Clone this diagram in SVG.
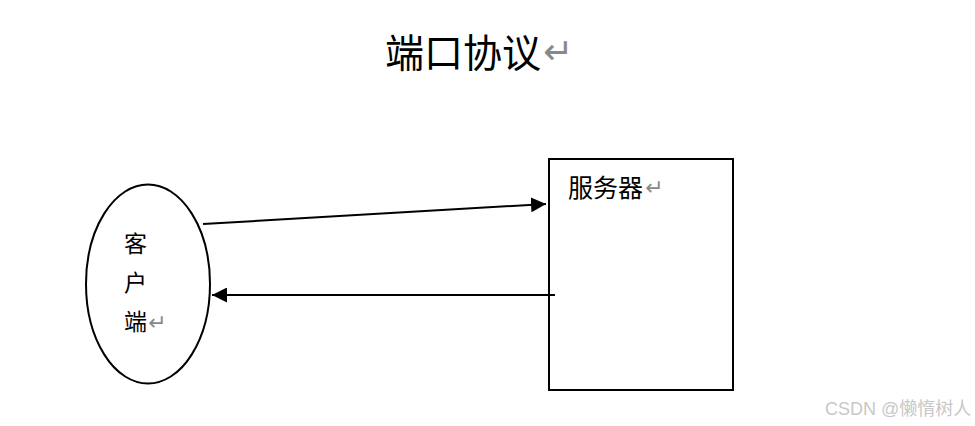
<svg xmlns="http://www.w3.org/2000/svg" width="975" height="426" viewBox="0 0 975 426">
<style>
.cjk{font-family:"Noto Sans CJK SC","Noto Sans",sans-serif;fill:#000}
.mark{fill:#888;font-family:"DejaVu Sans",sans-serif}
.shape{fill:none;stroke:#000;stroke-width:2}
.conn{stroke:#000;stroke-width:2;fill:none}
</style>
<defs>
<marker id="ah" viewBox="0 0 10 10" refX="10" refY="5" markerWidth="15" markerHeight="15" markerUnits="userSpaceOnUse" orient="auto">
<path d="M0,0 L10,5 L0,10 z" fill="#000"/>
</marker>
</defs>
<rect width="975" height="426" fill="#fff"/>
<g id="title">
<text x="385" y="67" class="cjk" font-size="39">端口协议</text>
<text x="543" y="64" class="mark" font-size="36">↵</text>
</g>
<g id="client">
<ellipse cx="148" cy="284" rx="62" ry="99.5" class="shape"/>
<text x="124" y="252" class="cjk" font-size="23">客</text>
<text x="124" y="291" class="cjk" font-size="23">户</text>
<text x="124" y="330" class="cjk" font-size="23">端</text>
<text x="148" y="330" class="mark" font-size="22">↵</text>
</g>
<g id="server">
<rect x="549" y="159" width="184" height="231" class="shape"/>
<text x="568" y="197" class="cjk" font-size="25">服务器</text>
<text x="645" y="195" class="mark" font-size="22">↵</text>
</g>
<g id="connectors">
<line x1="203" y1="224" x2="546" y2="204" class="conn" marker-end="url(#ah)"/>
<line x1="555" y1="295" x2="212" y2="295" class="conn" marker-end="url(#ah)"/>
</g>
<text x="825" y="415" font-family="Liberation Sans,Noto Sans CJK SC,sans-serif" font-size="18" fill="#c8c8c8">CSDN @懒惰树人</text>
</svg>
